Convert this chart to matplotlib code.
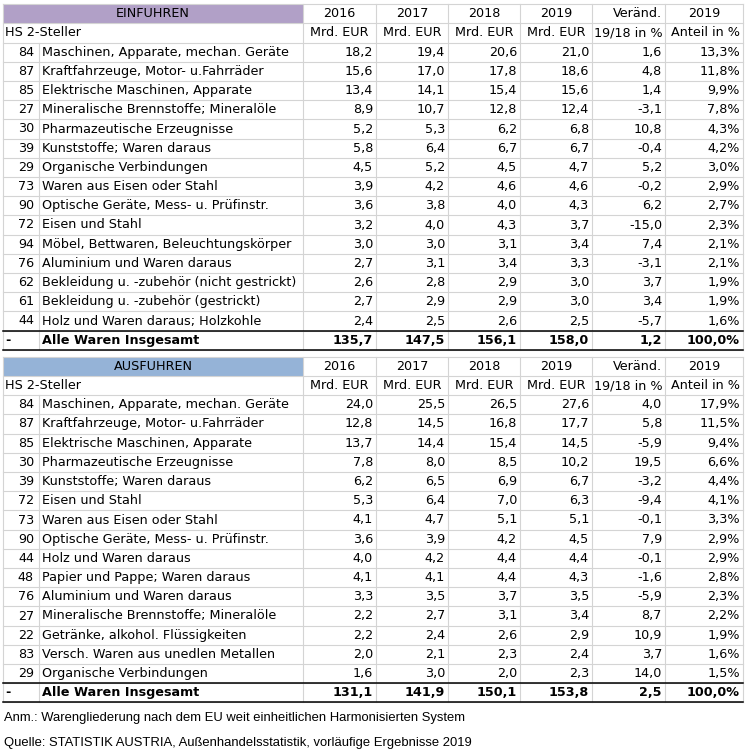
"""Außenhandel Österreich: Top-15 Warengruppen Ein- und Ausfuhren 2016-2019 (Tabelle)."""

import matplotlib
matplotlib.use("Agg")
import matplotlib.pyplot as plt
from matplotlib.patches import Rectangle

# ---- data -----------------------------------------------------------------
years = ["2016", "2017", "2018", "2019"]

imp_codes = ["84", "87", "85", "27", "30", "39", "29", "73", "90", "72", "94", "76", "62", "61", "44"]
imp_labels = [
    "Maschinen, Apparate, mechan. Geräte",
    "Kraftfahrzeuge, Motor- u.Fahrräder",
    "Elektrische Maschinen, Apparate",
    "Mineralische Brennstoffe; Mineralöle",
    "Pharmazeutische Erzeugnisse",
    "Kunststoffe; Waren daraus",
    "Organische Verbindungen",
    "Waren aus Eisen oder Stahl",
    "Optische Geräte, Mess- u. Prüfinstr.",
    "Eisen und Stahl",
    "Möbel, Bettwaren, Beleuchtungskörper",
    "Aluminium und Waren daraus",
    "Bekleidung u. -zubehör (nicht gestrickt)",
    "Bekleidung u. -zubehör (gestrickt)",
    "Holz und Waren daraus; Holzkohle",
]
imp_2016 = [18.2, 15.6, 13.4, 8.9, 5.2, 5.8, 4.5, 3.9, 3.6, 3.2, 3.0, 2.7, 2.6, 2.7, 2.4]
imp_2017 = [19.4, 17.0, 14.1, 10.7, 5.3, 6.4, 5.2, 4.2, 3.8, 4.0, 3.0, 3.1, 2.8, 2.9, 2.5]
imp_2018 = [20.6, 17.8, 15.4, 12.8, 6.2, 6.7, 4.5, 4.6, 4.0, 4.3, 3.1, 3.4, 2.9, 2.9, 2.6]
imp_2019 = [21.0, 18.6, 15.6, 12.4, 6.8, 6.7, 4.7, 4.6, 4.3, 3.7, 3.4, 3.3, 3.0, 3.0, 2.5]
imp_chg = [1.6, 4.8, 1.4, -3.1, 10.8, -0.4, 5.2, -0.2, 6.2, -15.0, 7.4, -3.1, 3.7, 3.4, -5.7]
imp_share = [13.3, 11.8, 9.9, 7.8, 4.3, 4.2, 3.0, 2.9, 2.7, 2.3, 2.1, 2.1, 1.9, 1.9, 1.6]
imp_total = [135.7, 147.5, 156.1, 158.0, 1.2, 100.0]

exp_codes = ["84", "87", "85", "30", "39", "72", "73", "90", "44", "48", "76", "27", "22", "83", "29"]
exp_labels = [
    "Maschinen, Apparate, mechan. Geräte",
    "Kraftfahrzeuge, Motor- u.Fahrräder",
    "Elektrische Maschinen, Apparate",
    "Pharmazeutische Erzeugnisse",
    "Kunststoffe; Waren daraus",
    "Eisen und Stahl",
    "Waren aus Eisen oder Stahl",
    "Optische Geräte, Mess- u. Prüfinstr.",
    "Holz und Waren daraus",
    "Papier und Pappe; Waren daraus",
    "Aluminium und Waren daraus",
    "Mineralische Brennstoffe; Mineralöle",
    "Getränke, alkohol. Flüssigkeiten",
    "Versch. Waren aus unedlen Metallen",
    "Organische Verbindungen",
]
exp_2016 = [24.0, 12.8, 13.7, 7.8, 6.2, 5.3, 4.1, 3.6, 4.0, 4.1, 3.3, 2.2, 2.2, 2.0, 1.6]
exp_2017 = [25.5, 14.5, 14.4, 8.0, 6.5, 6.4, 4.7, 3.9, 4.2, 4.1, 3.5, 2.7, 2.4, 2.1, 3.0]
exp_2018 = [26.5, 16.8, 15.4, 8.5, 6.9, 7.0, 5.1, 4.2, 4.4, 4.4, 3.7, 3.1, 2.6, 2.3, 2.0]
exp_2019 = [27.6, 17.7, 14.5, 10.2, 6.7, 6.3, 5.1, 4.5, 4.4, 4.3, 3.5, 3.4, 2.9, 2.4, 2.3]
exp_chg = [4.0, 5.8, -5.9, 19.5, -3.2, -9.4, -0.1, 7.9, -0.1, -1.6, -5.9, 8.7, 10.9, 3.7, 14.0]
exp_share = [17.9, 11.5, 9.4, 6.6, 4.4, 4.1, 3.3, 2.9, 2.9, 2.8, 2.3, 2.2, 1.9, 1.6, 1.5]
exp_total = [131.1, 141.9, 150.1, 153.8, 2.5, 100.0]

note_lines = [
    "Anm.: Warengliederung nach dem EU weit einheitlichen Harmonisierten System",
    "Quelle: STATISTIK AUSTRIA, Außenhandelsstatistik, vorläufige Ergebnisse 2019",
]

# ---- layout (pixel coordinates) ---------------------------------------------
W, H = 750, 755
COL_X = [3, 39, 303, 376, 448, 520, 592, 665, 743]   # column borders
ROW_H = 19.2
GRID = "#d4d4d4"
FONT = "DejaVu Sans"
FS = 9.2


def fmt(v, pct=False):
    s = f"{v:.1f}".replace(".", ",")
    return s + "%" if pct else s


def draw_table(ax, top, title, color, codes, labels, cols, total):
    n_rows = 2 + len(codes) + 1
    bottom = top + n_rows * ROW_H
    left, right = COL_X[0], COL_X[-1]

    # header fill
    ax.add_patch(Rectangle((left, top), COL_X[2] - left, ROW_H, color=color, lw=0, zorder=0))

    # horizontal grid
    for i in range(n_rows + 1):
        y = top + i * ROW_H
        ax.plot([left, right], [y, y], color=GRID, lw=0.8, zorder=1)
    # vertical grid
    for j, x in enumerate(COL_X):
        y0 = top + 2 * ROW_H if j == 1 else top
        ax.plot([x, x], [y0, bottom], color=GRID, lw=0.8, zorder=1)
    # black lines round the total row
    for y in (bottom - ROW_H, bottom):
        ax.plot([left, right], [y, y], color="black", lw=1.1, zorder=2)

    def cy(i):
        return top + (i + 0.5) * ROW_H

    # header rows
    ax.text((left + COL_X[2]) / 2, cy(0), title, ha="center", va="center", fontsize=FS, family=FONT)
    ax.text(left + 2, cy(1), "HS 2-Steller", ha="left", va="center", fontsize=FS, family=FONT)
    for k, yr in enumerate(years):
        xc = (COL_X[2 + k] + COL_X[3 + k]) / 2
        ax.text(xc, cy(0), yr, ha="center", va="center", fontsize=FS, family=FONT)
        ax.text(xc, cy(1), "Mrd. EUR", ha="center", va="center", fontsize=FS, family=FONT)
    ax.text(COL_X[7] - 3, cy(0), "Veränd.", ha="right", va="center", fontsize=FS, family=FONT)
    ax.text(COL_X[7] - 2, cy(1), "19/18 in %", ha="right", va="center", fontsize=FS, family=FONT)
    ax.text((COL_X[7] + COL_X[8]) / 2, cy(0), "2019", ha="center", va="center", fontsize=FS, family=FONT)
    ax.text(COL_X[8] - 3, cy(1), "Anteil in %", ha="right", va="center", fontsize=FS, family=FONT)

    # body rows
    for r, (code, label) in enumerate(zip(codes, labels)):
        y = cy(2 + r)
        ax.text(COL_X[1] - 5, y, code, ha="right", va="center", fontsize=FS, family=FONT)
        ax.text(COL_X[1] + 3, y, label, ha="left", va="center", fontsize=FS, family=FONT)
        for k, col in enumerate(cols):
            ax.text(COL_X[3 + k] - 3, y, fmt(col[r], pct=(k == 5)),
                    ha="right", va="center", fontsize=FS, family=FONT)

    # total row
    y = cy(n_rows - 1)
    ax.text(left + 2, y, "-", ha="left", va="center", fontsize=FS, family=FONT, weight="bold")
    ax.text(COL_X[1] + 3, y, "Alle Waren Insgesamt", ha="left", va="center",
            fontsize=FS, family=FONT, weight="bold")
    for k, v in enumerate(total):
        ax.text(COL_X[3 + k] - 3, y, fmt(v, pct=(k == 5)), ha="right", va="center",
                fontsize=FS, family=FONT, weight="bold")
    return bottom


fig = plt.figure(figsize=(W / 100, H / 100), dpi=100)
ax = fig.add_axes([0, 0, 1, 1])
ax.set_xlim(0, W)
ax.set_ylim(H, 0)
ax.axis("off")

imp_cols = [imp_2016, imp_2017, imp_2018, imp_2019, imp_chg, imp_share]
exp_cols = [exp_2016, exp_2017, exp_2018, exp_2019, exp_chg, exp_share]

b1 = draw_table(ax, 4.2, "EINFUHREN", "#b1a0c7", imp_codes, imp_labels, imp_cols, imp_total)
b2 = draw_table(ax, b1 + 7, "AUSFUHREN", "#95b3d7", exp_codes, exp_labels, exp_cols, exp_total)

for i, line in enumerate(note_lines):
    ax.text(4, 718 + i * 25, line, ha="left", va="center", fontsize=9.4,
            family=["Liberation Sans Narrow", "Liberation Sans", "DejaVu Sans"])

fig.savefig("out.png", dpi=100)
